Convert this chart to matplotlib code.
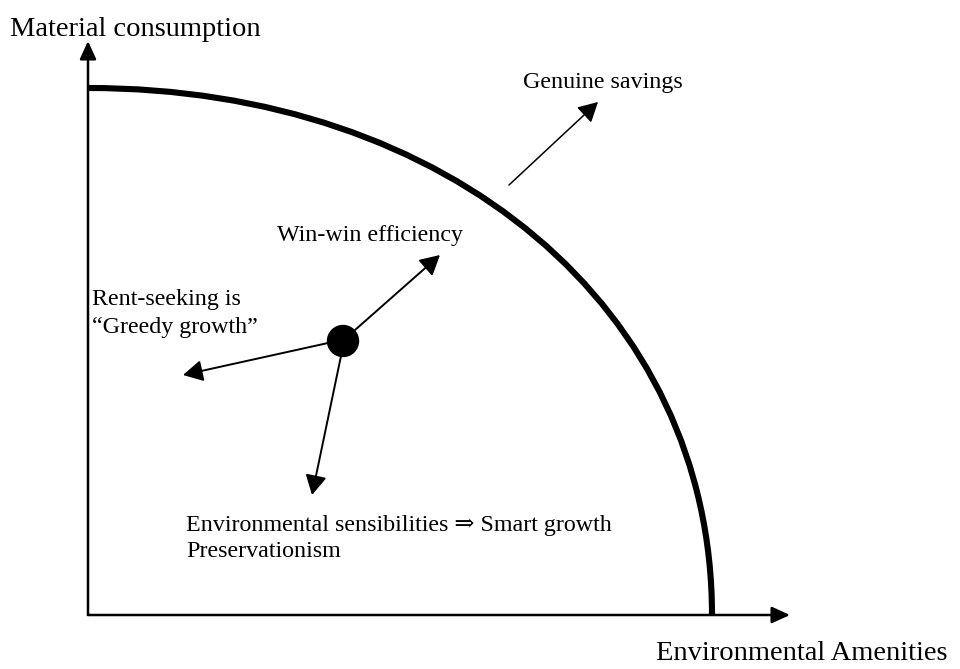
import matplotlib
matplotlib.use("Agg")
import matplotlib.pyplot as plt
from matplotlib.patches import Circle, FancyArrowPatch, PathPatch
from matplotlib.path import Path

# diagram coordinates are given in pixels of the 960x669 canvas (y grows downward)
origin = (88, 615)
y_axis_tip = (88, 41)
x_axis_tip = (790, 615)

# frontier: rounded quarter curve from the top of the y axis to the x axis
frontier_top = 88
frontier_right = 712
frontier_fullness = 0.58   # bezier handle length as a share of the radius

dot_center = (343, 341)
dot_radius = 15.5

# arrows: (start, end)
arrow_names = ["win-win", "rent-seeking", "environmental", "genuine savings"]
arrow_starts = [(355, 330), (328, 343), (341, 356), (509, 185)]
arrow_ends = [(440, 255), (183, 375), (312, 495), (598, 102)]
arrow_widths = [1.4, 1.4, 1.4, 1.1]

# text labels
label_texts = ["Material consumption", "Environmental Amenities", "Genuine savings",
               "Win-win efficiency", "Rent-seeking is", "\u201cGreedy growth\u201d",
               "Environmental sensibilities \u21d2 Smart growth", "Preservationism"]
label_x = [10, 948, 523, 463, 92, 92, 186, 186]
label_y = [36, 660, 88, 241, 305, 333, 531, 557]
label_ha = ["left", "right", "left", "right", "left", "left", "left", "left"]
label_size = [20.5, 20.5, 17.3, 17.3, 17.3, 17.3, 17.3, 17.3]

FONT = ["Liberation Serif", "DejaVu Serif"]

fig = plt.figure(figsize=(9.6, 6.69), dpi=100)
ax = fig.add_axes([0, 0, 1, 1])
ax.set_xlim(0, 960)
ax.set_ylim(669, 0)
ax.axis("off")

# axes with arrow heads
axis_style = "-|>,head_length=11,head_width=5"
for tip in [y_axis_tip, x_axis_tip]:
    ax.add_patch(FancyArrowPatch(origin, tip, arrowstyle=axis_style, mutation_scale=1,
                                 lw=1.8, color="black", shrinkA=0, shrinkB=0))

# the frontier curve as one cubic bezier
a = frontier_right - origin[0]
b = origin[1] - frontier_top
k = frontier_fullness
verts = [(origin[0], frontier_top),
         (origin[0] + k * a, frontier_top),
         (frontier_right, origin[1] - k * b),
         (frontier_right, origin[1])]
codes = [Path.MOVETO, Path.CURVE4, Path.CURVE4, Path.CURVE4]
ax.add_patch(PathPatch(Path(verts, codes), fill=False, lw=4.4, color="black",
                       capstyle="butt"))

# the dot and its arrows
ax.add_patch(Circle(dot_center, dot_radius, color="black", zorder=3))
arrow_style = "-|>,head_length=12,head_width=6.5"
for start, end, w in zip(arrow_starts, arrow_ends, arrow_widths):
    ax.add_patch(FancyArrowPatch(start, end, arrowstyle=arrow_style, mutation_scale=1,
                                 lw=w, color="black", shrinkA=0, shrinkB=0))

for x, y, s, ha, size in zip(label_x, label_y, label_texts, label_ha, label_size):
    ax.text(x, y, s, ha=ha, va="baseline", fontsize=size, family=FONT)

fig.savefig("out.png", dpi=100)
